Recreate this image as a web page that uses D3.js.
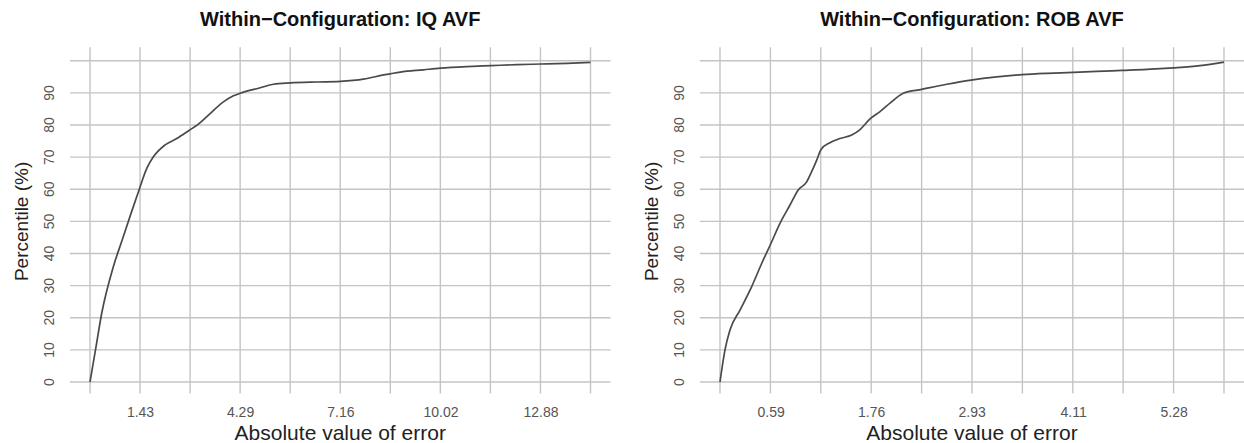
<!DOCTYPE html>
<html>
<head>
<meta charset="utf-8">
<script src="https://cdn.jsdelivr.net/npm/d3@7"></script>
<style>
  body { margin: 0; background: #fff; }
  text { font-family: "Liberation Sans", Arial, sans-serif; }
</style>
</head>
<body>
<div id="graf"></div>
<script>
// IQ AVF curve (absolute error vs percentile)
const iqError = [0, 0.168, 0.335, 0.667, 0.92, 1.173, 1.402, 1.623, 1.812, 2.147, 2.481, 2.842, 3.100, 3.340, 3.815, 4.101, 4.293, 4.866, 5.246, 5.724, 6.488, 7.155, 7.822, 8.394, 8.872, 9.539, 10.017, 10.781, 11.468, 12.212, 12.899, 13.643, 14.31]
const iqPct = [0, 10.7, 21.4, 35.9, 44.2, 52.5, 59.8, 66.5, 70.1, 73.8, 75.8, 78.4, 80.3, 82.6, 87.2, 89.1, 89.9, 91.6, 92.7, 93.1, 93.4, 93.6, 94.3, 95.6, 96.5, 97.2, 97.7, 98.2, 98.5, 98.8, 99.0, 99.2, 99.5]

// ROB AVF curve
const robError = [0, 0.058, 0.116, 0.233, 0.369, 0.485, 0.594, 0.698, 0.815, 0.911, 1.009, 1.067, 1.126, 1.176, 1.280, 1.397, 1.533, 1.630, 1.746, 1.863, 1.979, 2.134, 2.348, 2.639, 2.922, 3.221, 3.519, 3.803, 4.113, 4.385, 4.683, 4.967, 5.277, 5.588, 5.867]
const robPct = [0, 10.0, 16.2, 22.4, 29.7, 36.9, 43.2, 49.4, 55.1, 59.8, 62.3, 65.5, 69.1, 72.4, 74.5, 75.8, 76.9, 78.6, 81.9, 84.2, 86.8, 89.9, 91.1, 92.7, 94.0, 95.0, 95.7, 96.1, 96.4, 96.7, 97.0, 97.3, 97.8, 98.5, 99.6]

// grid lines and tick labels
const iqGrid = [0, 1.431, 2.862, 4.293, 5.724, 7.155, 8.586, 10.017, 11.448, 12.879, 14.31]
const iqTicks = ["1.43", "4.29", "7.16", "10.02", "12.88"]
const robGrid = [0, 0.587, 1.173, 1.76, 2.347, 2.933, 3.52, 4.107, 4.693, 5.28, 5.867]
const robTicks = ["0.59", "1.76", "2.93", "4.11", "5.28"]
const pctGrid = [0, 10, 20, 30, 40, 50, 60, 70, 80, 90, 100]
const pctTicks = [0, 10, 20, 30, 40, 50, 60, 70, 80, 90]

const titles = ["Within\u2212Configuration: IQ AVF", "Within\u2212Configuration: ROB AVF"]
const xTitle = "Absolute value of error"
const yTitle = "Percentile (%)"

const draw = () => {
  const anchoTotal = 1244
  const altoTotal = 443

  const svg = d3.select("#graf")
    .append("svg")
    .attr("width", anchoTotal)
    .attr("height", altoTotal)

  const panels = [
    { left: 90, right: 590.5, err: iqError, pct: iqPct, grid: iqGrid, ticks: iqTicks, title: titles[0] },
    { left: 720, right: 1224, err: robError, pct: robPct, grid: robGrid, ticks: robTicks, title: titles[1] }
  ]

  // shared y scale
  const y = d3.scaleLinear().domain([0, 100]).range([382, 60.8])

  panels.forEach((p) => {
    const xMax = d3.max(p.grid)
    const x = d3.scaleLinear().domain([0, xMax]).range([p.left, p.right])
    const pad = xMax * 0.04
    const g = svg.append("g")

    // grid
    g.selectAll(".vgrid")
      .data(p.grid)
      .join("line")
      .attr("x1", (d) => x(d))
      .attr("x2", (d) => x(d))
      .attr("y1", y(-3.6))
      .attr("y2", y(104.2))
      .attr("stroke", "#c4c4c4")
      .attr("stroke-width", 1.4)

    g.selectAll(".hgrid")
      .data(pctGrid)
      .join("line")
      .attr("x1", x(-pad))
      .attr("x2", x(xMax + pad))
      .attr("y1", (d) => y(d))
      .attr("y2", (d) => y(d))
      .attr("stroke", "#c4c4c4")
      .attr("stroke-width", 1.4)

    // curve
    const line = d3.line()
      .x((d) => x(d[0]))
      .y((d) => y(d[1]))
      .curve(d3.curveMonotoneX)

    g.append("path")
      .datum(d3.zip(p.err, p.pct))
      .attr("d", line)
      .attr("fill", "none")
      .attr("stroke", "#4a4a4a")
      .attr("stroke-width", 1.7)

    // x axis labels
    const xAxis = d3.axisBottom(x)
      .tickValues(p.ticks.map(Number))
      .tickFormat((d, i) => p.ticks[i])
      .tickSize(0)
      .tickPadding(25)

    const xAxisGroup = g.append("g")
      .attr("transform", `translate(0, ${y(0)})`)
      .call(xAxis)
    xAxisGroup.select(".domain").remove()
    xAxisGroup.selectAll("text")
      .attr("fill", "#555")
      .style("font-size", "14px")
      .style("font-family", "'Liberation Sans', Arial, sans-serif")

    // y axis labels (rotated, R style)
    g.selectAll(".ylab")
      .data(pctTicks)
      .join("text")
      .attr("transform", (d) => `translate(${p.left - 41}, ${y(d)}) rotate(-90)`)
      .attr("dy", "0.35em")
      .attr("text-anchor", "middle")
      .attr("fill", "#555")
      .style("font-size", "14px")
      .text((d) => d)

    // titles
    const cx = (p.left + p.right) / 2
    g.append("text")
      .attr("x", cx)
      .attr("y", 26)
      .attr("text-anchor", "middle")
      .attr("fill", "#111")
      .style("font-size", "20px")
      .style("font-weight", "bold")
      .text(p.title)

    g.append("text")
      .attr("x", cx)
      .attr("y", 440)
      .attr("text-anchor", "middle")
      .attr("fill", "#222")
      .style("font-size", "21px")
      .text(xTitle)

    g.append("text")
      .attr("transform", `translate(${p.left - 69}, ${(y(0) + y(100)) / 2}) rotate(-90)`)
      .attr("dy", "0.35em")
      .attr("text-anchor", "middle")
      .attr("fill", "#222")
      .style("font-size", "19px")
      .text(yTitle)
  })
}

draw()
</script>
</body>
</html>
